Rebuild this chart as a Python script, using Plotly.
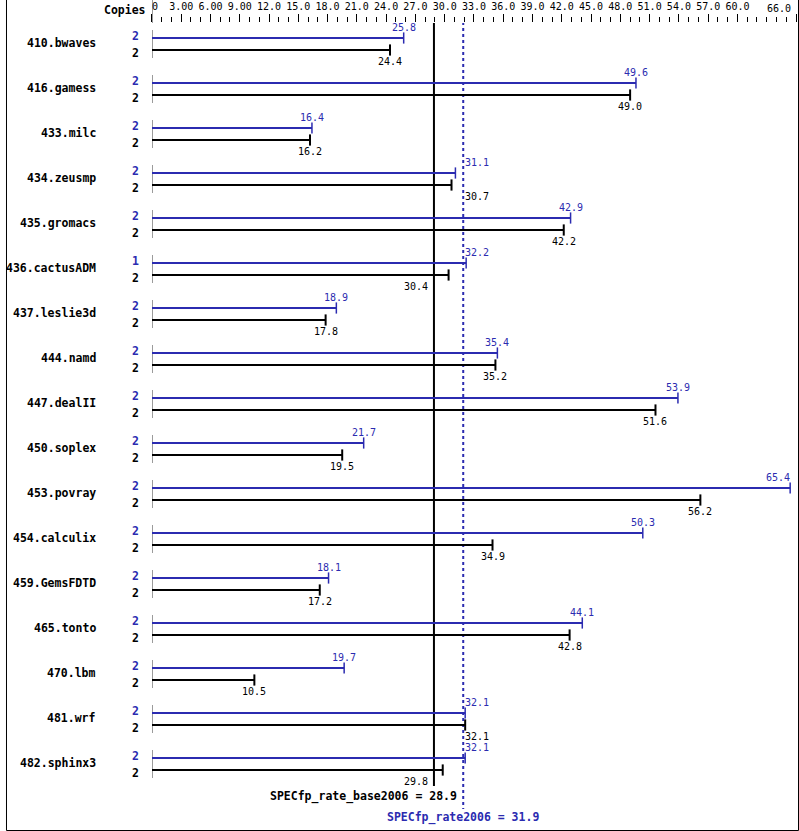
import plotly.graph_objects as go

benchmarks = ["410.bwaves", "416.gamess", "433.milc", "434.zeusmp", "435.gromacs",
              "436.cactusADM", "437.leslie3d", "444.namd", "447.dealII", "450.soplex",
              "453.povray", "454.calculix", "459.GemsFDTD", "465.tonto", "470.lbm",
              "481.wrf", "482.sphinx3"]
peak_values = [25.8, 49.6, 16.4, 31.1, 42.9, 32.2, 18.9, 35.4, 53.9, 21.7,
               65.4, 50.3, 18.1, 44.1, 19.7, 32.1, 32.1]
base_values = [24.4, 49.0, 16.2, 30.7, 42.2, 30.4, 17.8, 35.2, 51.6, 19.5,
               56.2, 34.9, 17.2, 42.8, 10.5, 32.1, 29.8]
peak_copies = [2, 2, 2, 2, 2, 1, 2, 2, 2, 2, 2, 2, 2, 2, 2, 2, 2]
base_copies = [2] * 17
base_mean = 28.9
peak_mean = 31.9
tick_values = [0, 3, 6, 9, 12, 15, 18, 21, 24, 27, 30, 33, 36, 39, 42, 45, 48, 51, 54, 57, 60, 66]
tick_labels = ["\u00a00", "3.00", "6.00", "9.00", "12.0", "15.0", "18.0", "21.0", "24.0", "27.0",
               "30.0", "33.0", "36.0", "39.0", "42.0", "45.0", "48.0", "51.0", "54.0", "57.0",
               "60.0", ""]
last_tick_label = "66.0"

BLUE = "#2b2bb0"
BLACK = "#000000"
MONO = "DejaVu Sans Mono"
W, H = 799, 831
TOP = 23
PITCH = 45.0
Y0 = 44.0
X_MAX = 66

def py2row(py):
    return (py - Y0) / PITCH

def py2paper(py):
    return (H - py) / (H - TOP)

n = len(benchmarks)
rows = list(range(n))
off = 6 / PITCH

fig = go.Figure()

# per-row start segments at zero
sx, sy = [], []
for i in rows:
    sx += [0, 0, None]
    sy += [i - 14 / PITCH, i + 14 / PITCH, None]
fig.add_trace(go.Scatter(x=sx, y=sy, mode="lines", line=dict(color=BLACK, width=1),
                         hoverinfo="skip", showlegend=False))

# mean lines
fig.add_trace(go.Scatter(x=[base_mean, base_mean], y=[py2row(22), py2row(786)], mode="lines",
                         line=dict(color=BLACK, width=2), hoverinfo="skip", showlegend=False))
fig.add_trace(go.Scatter(x=[peak_mean, peak_mean], y=[py2row(22), py2row(809)], mode="lines",
                         line=dict(color=BLUE, width=2, dash="dot"), hoverinfo="skip", showlegend=False))

# bars
for vals, color, dy, ew in [(peak_values, BLUE, -off, 1.5), (base_values, BLACK, off, 2)]:
    bx, by = [], []
    for i, v in zip(rows, vals):
        bx += [0, v, None]
        by += [i + dy, i + dy, None]
    fig.add_trace(go.Scatter(x=bx, y=by, mode="lines", line=dict(color=color, width=2),
                             hoverinfo="skip", showlegend=False))
    fig.add_trace(go.Scatter(x=vals, y=[i + dy for i in rows], mode="markers",
                             marker=dict(symbol="line-ns", size=8, line=dict(color=color, width=ew)),
                             hoverinfo="skip", showlegend=False, cliponaxis=False))

annotations = []
mid = (base_mean + peak_mean) / 2
for i in rows:
    annotations.append(dict(x=93 / W, xref="paper", y=i - 1 / PITCH, yref="y", text=benchmarks[i],
                            xanchor="right", yanchor="middle", showarrow=False,
                            font=dict(family=MONO, size=11.5, color=BLACK, weight="bold")))
    annotations.append(dict(x=130.5 / W, xref="paper", y=i - 8 / PITCH, yref="y", text=str(peak_copies[i]),
                            xanchor="center", yanchor="middle", showarrow=False,
                            font=dict(family=MONO, size=11.5, color=BLUE, weight="bold")))
    annotations.append(dict(x=130.5 / W, xref="paper", y=i + 9 / PITCH, yref="y", text=str(base_copies[i]),
                            xanchor="center", yanchor="middle", showarrow=False,
                            font=dict(family=MONO, size=11.5, color=BLACK, weight="bold")))
    for v, color, dy in [(peak_values[i], BLUE, -17), (base_values[i], BLACK, 17)]:
        if base_mean - 1.5 <= v <= peak_mean + 1.5:
            if v <= mid:
                ax, anc, xs = base_mean, "right", -4
            else:
                ax, anc, xs = peak_mean, "left", 0
        elif v + 1.3 > X_MAX - 0.4:
            ax, anc, xs = X_MAX, "right", -4
        else:
            ax, anc, xs = v, "center", 0
        annotations.append(dict(x=ax, xref="x", y=i + dy / PITCH, yref="y", text=f"{v:.1f}",
                                xanchor=anc, xshift=xs, yanchor="middle", showarrow=False,
                                font=dict(family=MONO, size=10, color=color)))

annotations.append(dict(x=peak_mean, xref="x", xshift=-4, y=py2row(796), yref="y",
                        text=f"SPECfp_rate_base2006 = {base_mean}", xanchor="right", yanchor="middle",
                        showarrow=False, font=dict(family=MONO, size=11.5, color=BLACK, weight="bold")))
annotations.append(dict(x=peak_mean, xref="x", y=py2row(817), yref="y",
                        text=f"SPECfp_rate2006 = {peak_mean}", xanchor="center", yanchor="middle",
                        showarrow=False, font=dict(family=MONO, size=11.5, color=BLUE, weight="bold")))
annotations.append(dict(x=143 / W, xref="paper", y=py2paper(10), yref="paper", text="Copies",
                        xanchor="right", yanchor="middle", showarrow=False,
                        font=dict(family=MONO, size=11.5, color=BLACK, weight="bold")))
annotations.append(dict(x=793 / W, xref="paper", y=py2paper(9), yref="paper", text=last_tick_label,
                        xanchor="right", yanchor="middle", showarrow=False,
                        font=dict(family=MONO, size=10, color=BLACK)))

shapes = [
    dict(type="line", xref="x", x0=0, x1=0, yref="paper", y0=py2paper(23), y1=py2paper(0),
         line=dict(color=BLACK, width=1)),
    dict(type="path", xref="paper", yref="paper",
         path=f"M {0.5 / W},{py2paper(0)} L {0.5 / W},{py2paper(830.5)} L {798.5 / W},{py2paper(830.5)} L {798.5 / W},{py2paper(0)}",
         line=dict(color=BLACK, width=1)),
]

fig.update_layout(
    width=W, height=H,
    margin=dict(l=0, r=0, t=TOP, b=0),
    paper_bgcolor="white", plot_bgcolor="white",
    showlegend=False,
    annotations=annotations,
    shapes=shapes,
    xaxis=dict(domain=[147 / W, 796 / W], range=[0, X_MAX], side="top",
               tickmode="array", tickvals=tick_values, ticktext=tick_labels,
               ticks="outside", ticklen=8, tickwidth=1, tickcolor=BLACK,
               minor=dict(tickmode="linear", tick0=0, dtick=1, ticks="outside", ticklen=5,
                          tickwidth=1, tickcolor=BLACK),
               tickfont=dict(family=MONO, size=10, color=BLACK),
               showgrid=False, zeroline=False, showline=False, fixedrange=True),
    yaxis=dict(range=[py2row(H), py2row(TOP)], visible=False, showgrid=False, zeroline=False,
               fixedrange=True),
)

fig.write_html("out.html", config={"displayModeBar": False},
               post_script="document.body.style.margin='0';document.body.style.padding='0';"
                           "document.body.style.overflow='hidden';"
                           "document.documentElement.style.overflow='hidden';")
